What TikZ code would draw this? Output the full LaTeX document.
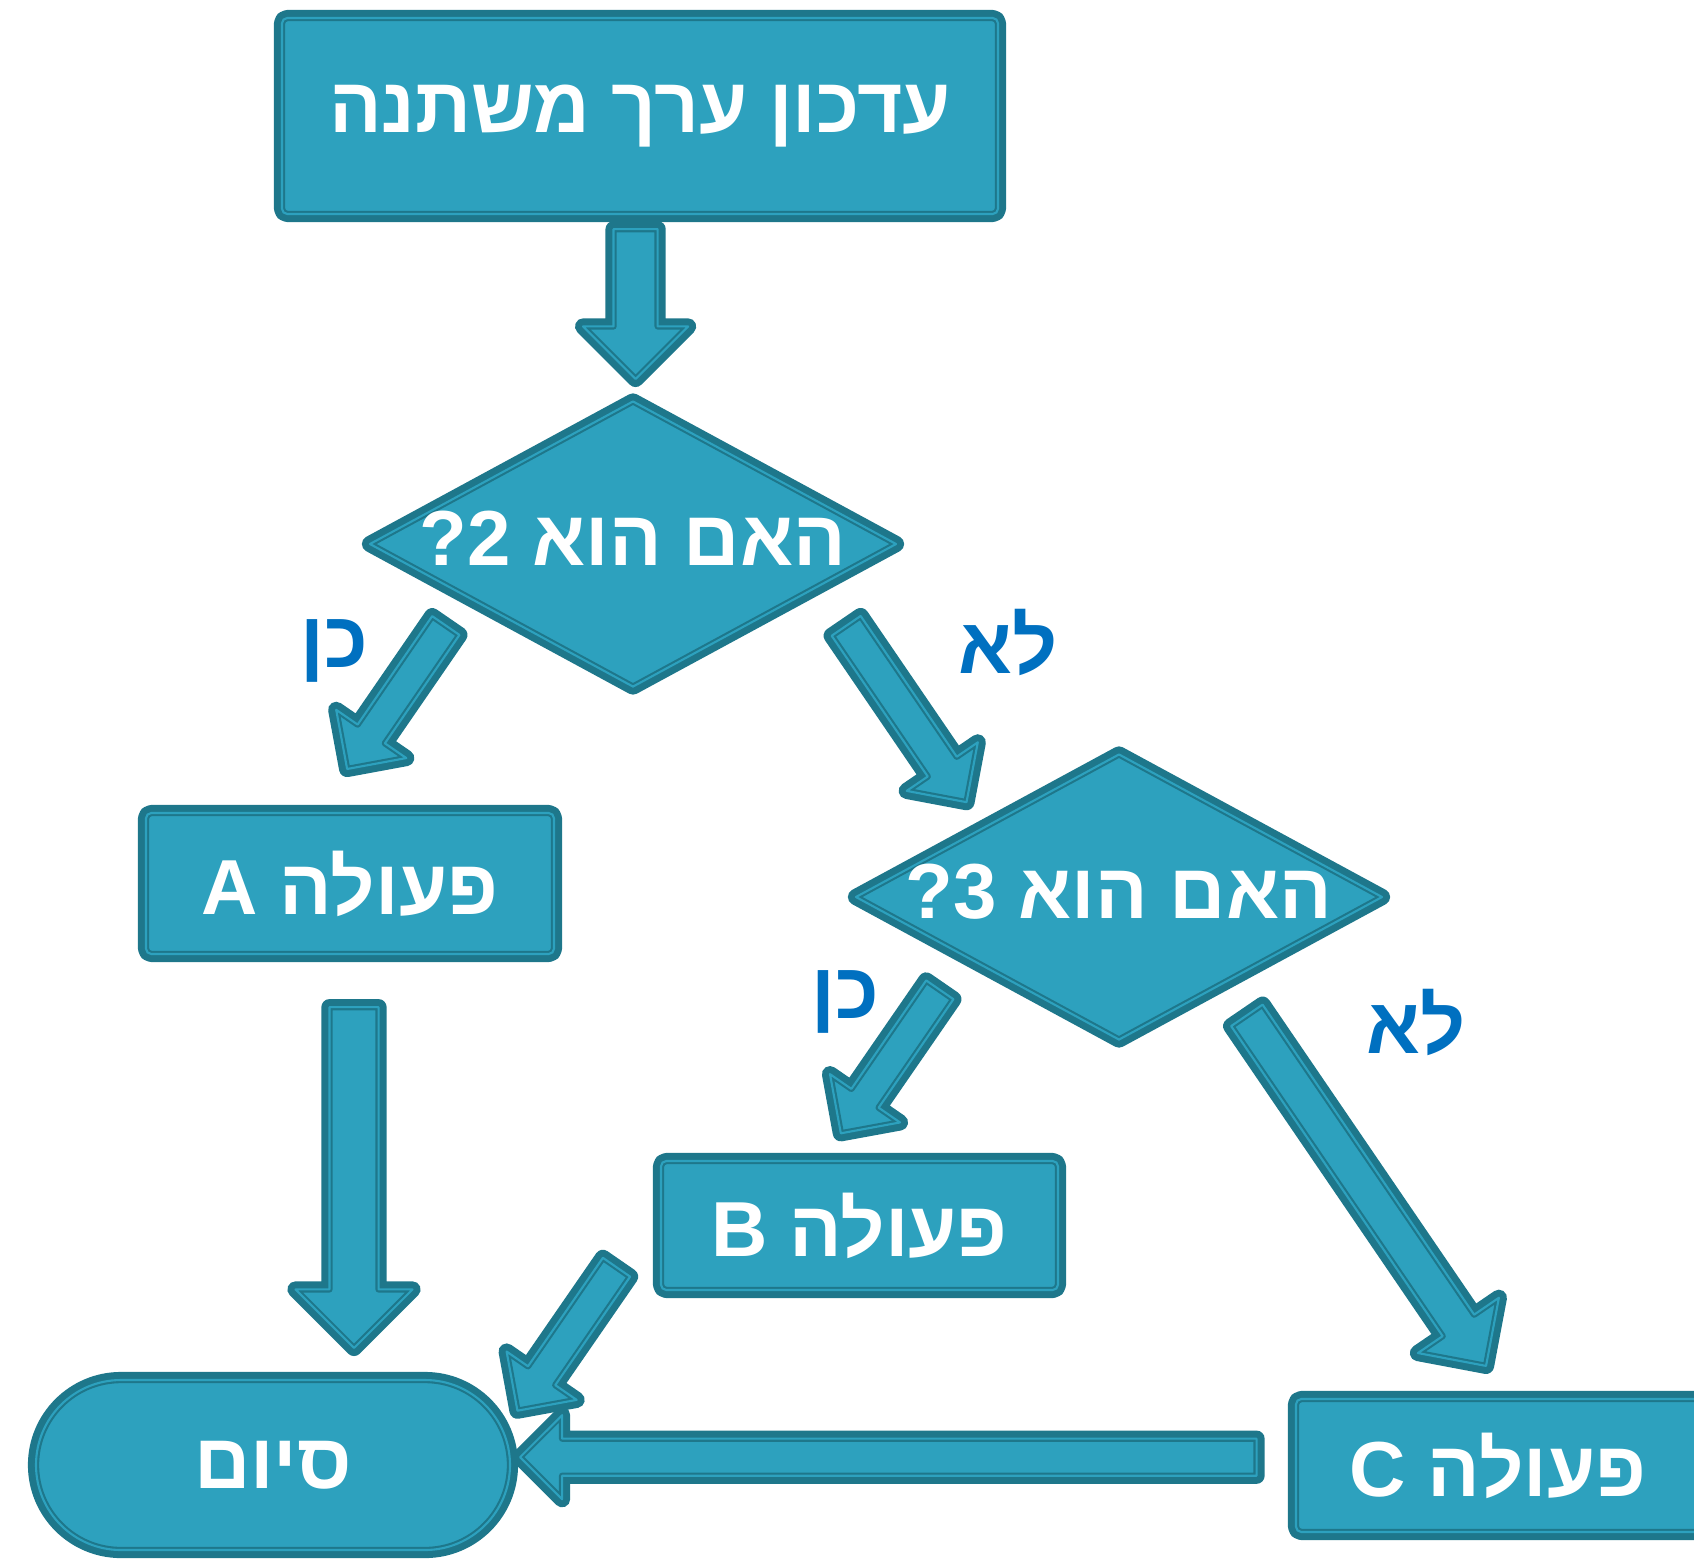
\documentclass[tikz,border=0pt]{standalone}
\usepackage{fontspec}
\usetikzlibrary{shapes.geometric,shapes.misc,shapes.arrows,calc}
\TeXXeTstate=1
\newfontfamily\hebfont[Script=Hebrew]{Liberation Sans}
\definecolor{flowfill}{HTML}{2DA1BE}
\definecolor{flowedge}{HTML}{1E778B}
\definecolor{answerblue}{HTML}{0070C0}
\newcommand\flatline[1]{\raisebox{-0.21cm}[0pt][0pt]{#1}}
\tikzset{
	flowbase/.style={fill=flowfill, draw=flowedge, double=flowfill, line width=0.6pt, double distance=0.6pt, line join=round, preaction={draw=flowedge, line width=4.6pt}, text=white, font=\hebfont\bfseries\fontsize{22.2}{26}\selectfont},
	actbox/.style={flowbase, rectangle, rounded corners=1.5pt, inner sep=0pt},
	askbox/.style={flowbase, diamond, aspect=1.84, inner sep=0pt, minimum width=5.27cm, minimum height=2.86cm},
	endbox/.style={flowbase, rounded rectangle, inner sep=0pt},
	bigarrow/.style={flowbase, single arrow, inner xsep=0pt, single arrow head indent=0pt, anchor=tail},
	answer/.style={anchor=base, text=answerblue, font=\hebfont\bfseries\fontsize{22.5}{26}\selectfont}
}
% #1 name, #2 half shaft, #3 head extend, #4 tail, #5 tip
\newcommand\flowarrow[5]{%
	\path let \p1=($(#5)-(#4)$), \n1={atan2(\y1,\x1)}, \n2={veclen(\x1,\y1)-4.6} in
		node[bigarrow, rotate=\n1, minimum height=\n2, inner ysep=#2, single arrow head extend=#3] (#1) at ($(#4)!2.3pt!(#5)$) {};
}
\begin{document}
\begin{tikzpicture}
	\useasboundingbox (0,0) rectangle (16.94,-15.58);
	
	\node[actbox, minimum width=7.16cm, minimum height=1.96cm] (update) at (6.40,-1.16) {\beginR עדכון ערך משתנה\endR};
	\node[askbox] (ask2) at (6.33,-5.44) {\flatline{\beginR האם הוא 2?\endR}};
	\node[askbox] (ask3) at (11.19,-8.97) {\flatline{\beginR האם הוא 3?\endR}};
	\node[actbox, minimum width=4.08cm, minimum height=1.41cm] (actA) at (3.50,-8.835) {\beginR פעולה A\endR};
	\node[actbox, minimum width=3.97cm, minimum height=1.29cm] (actB) at (8.595,-12.255) {\beginR פעולה B\endR};
	\node[actbox, minimum width=4.04cm, minimum height=1.33cm] (actC) at (14.98,-14.655) {\beginR פעולה C\endR};
	\node[endbox, minimum width=4.74cm, minimum height=1.70cm] (finish) at (2.73,-14.65) {\beginR סיום\endR};
	
	\node[answer] (yes2) at (3.34,-6.67) {\beginR כן\endR};
	\node[answer] (no2) at (10.08,-6.73) {\beginR לא\endR};
	\node[answer] (yes3) at (8.45,-10.18) {\beginR כן\endR};
	\node[answer] (no3) at (14.16,-10.53) {\beginR לא\endR};
	
	\coordinate (update-out) at (6.356,-2.20);
	\coordinate (ask2-in) at (6.356,-3.86);
	\coordinate (ask2-yes) at (4.51,-6.18);
	\coordinate (actA-in) at (3.43,-7.75);
	\coordinate (ask2-no) at (8.41,-6.183);
	\coordinate (ask3-in) at (9.707,-8.083);
	\coordinate (actA-out) at (3.54,-9.98);
	\coordinate (finish-top) at (3.54,-13.55);
	\coordinate (ask3-yes) at (9.45,-9.823);
	\coordinate (actB-in) at (8.367,-11.393);
	\coordinate (ask3-no) at (12.417,-10.078);
	\coordinate (actC-in) at (14.90,-13.717);
	\coordinate (actB-out) at (6.217,-12.597);
	\coordinate (finish-corner) at (5.133,-14.167);
	\coordinate (actC-out) at (12.657,-14.572);
	\coordinate (finish-right) at (5.13,-14.572);
	
	\flowarrow{go2}{0.21cm}{0.305cm}{update-out}{ask2-in}
	\flowarrow{yesA}{0.155cm}{0.26cm}{ask2-yes}{actA-in}
	\flowarrow{no3go}{0.165cm}{0.255cm}{ask2-no}{ask3-in}
	\flowarrow{doneA}{0.235cm}{0.34cm}{actA-out}{finish-top}
	\flowarrow{yesB}{0.155cm}{0.26cm}{ask3-yes}{actB-in}
	\flowarrow{noC}{0.18cm}{0.3cm}{ask3-no}{actC-in}
	\flowarrow{doneB}{0.155cm}{0.26cm}{actB-out}{finish-corner}
	\flowarrow{doneC}{0.175cm}{0.235cm}{actC-out}{finish-right}
	
\end{tikzpicture}
\end{document}
